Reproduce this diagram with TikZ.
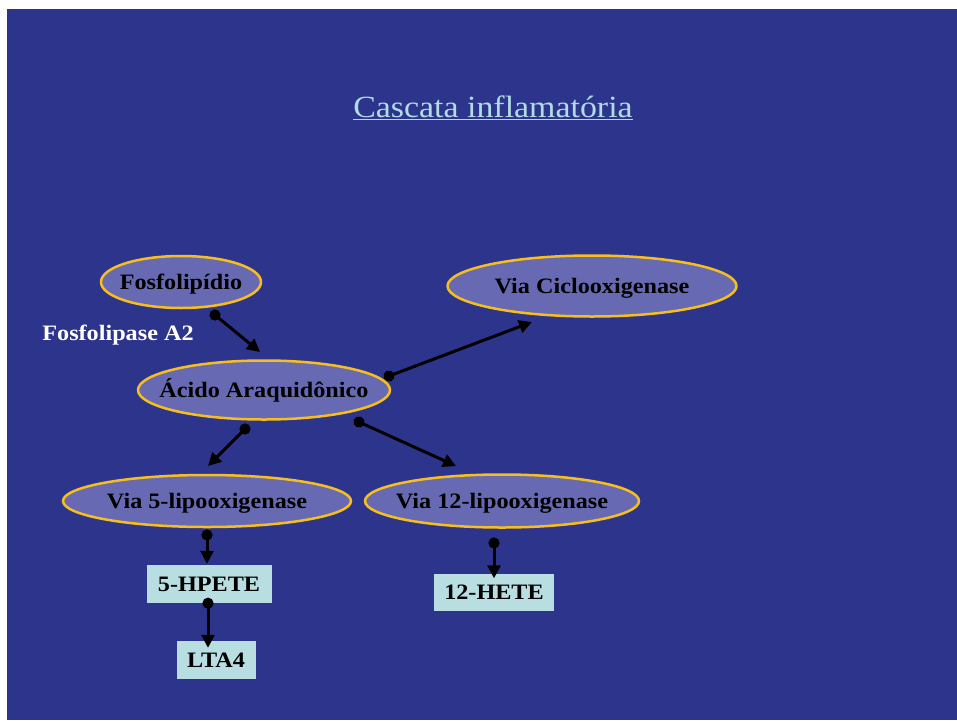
\documentclass[tikz,border=0pt]{standalone}
\usepackage{fontspec}
\setmainfont{Liberation Serif}[FakeStretch=1.1]
\usetikzlibrary{shapes.geometric,arrows.meta,calc}
\definecolor{slideblue}{RGB}{45,52,140}
\definecolor{bubblefill}{RGB}{103,106,178}
\definecolor{ringgold}{RGB}{246,190,30}
\definecolor{tagcyan}{RGB}{184,222,226}
\definecolor{titlecyan}{RGB}{178,220,228}

\begin{document}
\begin{tikzpicture}[x=1pt,y=-1pt,line join=round,
  bubble/.style={ellipse,draw=ringgold,line width=2.5pt,fill=bubblefill,inner xsep=-70pt,inner ysep=0pt,
    text height=15pt,text depth=1pt,font=\bfseries\fontsize{22}{26}\selectfont},
  tag/.style={rectangle,fill=tagcyan,inner sep=0pt,minimum height=38pt,
    text height=15pt,text depth=1pt,font=\bfseries\fontsize{22}{26}\selectfont},
  flow/.style={line width=3pt,{Circle[length=11pt,width=11pt]}-{Triangle[length=13pt,width=13pt]},
    shorten <=-5.5pt}]

  % slide background
  \fill[white] (0,0) rectangle (957,720);
  \fill[slideblue] (7,9) rectangle (957,720);
  \useasboundingbox (0,0) rectangle (957,720);

  \node[anchor=base,text=titlecyan,font=\fontsize{30.8}{36}\selectfont] (title) at (493,117)
    {\underline{Cascata inflamatória}};

  \node[bubble,minimum width=160pt,minimum height=52pt] (fosfo) at (181,282) {Fosfolipídio};
  \node[bubble,minimum width=252pt,minimum height=59pt] (acido) at (264,390) {Ácido Araquidônico};
  \node[bubble,minimum width=289pt,minimum height=61pt] (ciclo) at (592,286) {Via Ciclooxigenase};
  \node[bubble,minimum width=288pt,minimum height=52pt] (lipo5) at (207,501) {Via 5-lipooxigenase};
  \node[bubble,minimum width=274pt,minimum height=53pt] (lipo12) at (502,501) {Via 12-lipooxigenase};

  \node[tag,minimum width=125pt] (hpete) at (209,584) {5-HPETE};
  \node[tag,minimum width=79pt] (lta) at (216,660) {LTA4};
  \node[tag,minimum width=120pt,minimum height=37pt] (hete) at (494,592) {12-HETE};

  \node[text=white,font=\bfseries\fontsize{22}{26}\selectfont] (pla) at (118,335) {Fosfolipase A2};

  \draw[flow] ($(fosfo)+(34,33)$) -- ($(acido)+(-4,-38)$);
  \draw[flow] ($(acido)+(125,-14)$) -- ($(ciclo)+(-60,36)$);
  \draw[flow] ($(acido)+(-19,39)$) -- ($(lipo5)+(1,-35)$);
  \draw[flow] ($(acido)+(95,32)$) -- ($(lipo12)+(-46,-35)$);
  \draw[flow] ($(lipo5)+(0,34)$) -- ($(hpete.north)+(-2,-1)$);
  \draw[flow] ($(hpete.south)+(-1,0)$) -- ($(lta.north)+(-8,7)$);
  \draw[flow] ($(lipo12)+(-8,42)$) -- ($(hete.north)+(0,5)$);

\end{tikzpicture}
\end{document}
